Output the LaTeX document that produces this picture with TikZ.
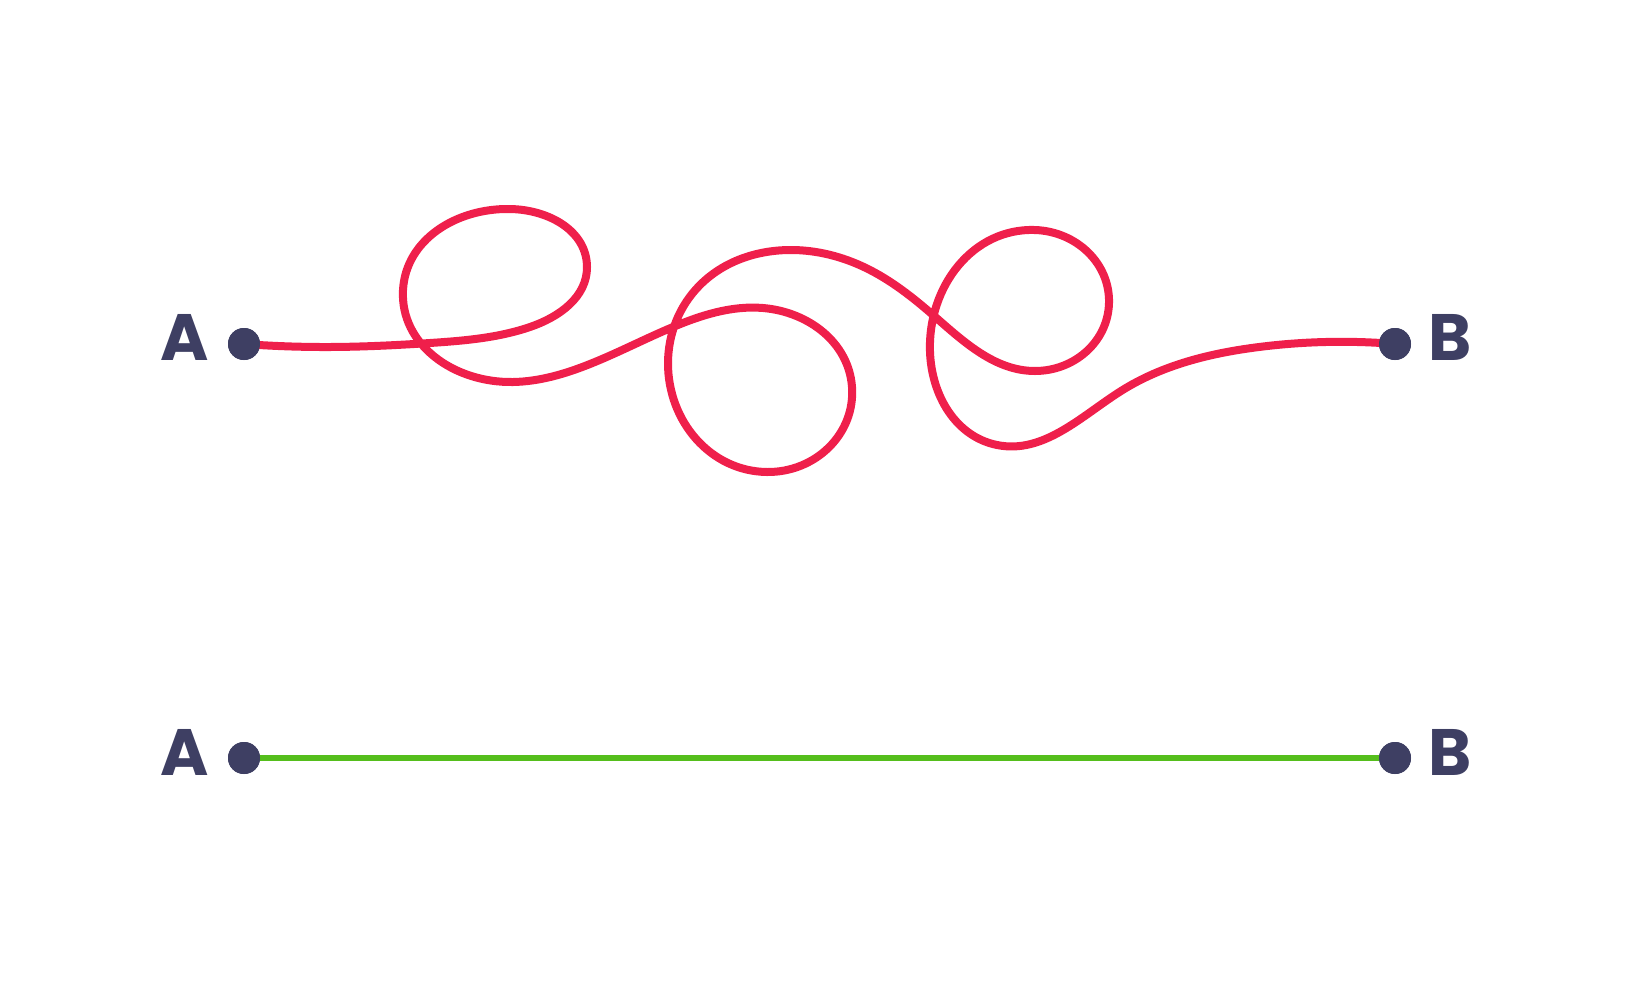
\documentclass[tikz,border=0pt]{standalone}
\usepackage{fontspec}
\usetikzlibrary{hobby}
\newfontfamily\labfont{Poppins}
\definecolor{navy}{HTML}{3E3F63}
\definecolor{tangle}{HTML}{EF1F4B}
\definecolor{direct}{HTML}{55BE1C}
\tikzset{
  dotpt/.style={circle,fill=navy,inner sep=0pt,minimum size=0.96cm},
  letter/.style={text=navy,font=\labfont\bfseries\fontsize{56}{60}\selectfont,inner sep=0pt,anchor=base},
  wire/.style={line width=0.24cm,line cap=round,line join=round},
}
\begin{document}
\begin{tikzpicture}[x=0.03cm,y=-0.03cm]
\useasboundingbox (0,0) rectangle (1633,980);
% top row
\node[dotpt] (A1) at (244,344) {};
\node[dotpt] (B1) at (1395,344) {};
\draw[wire,tangle,use Hobby shortcut]
 (A1.center) .. (330,347) .. (430,343) .. (530,327) .. (587,267) .. (510,209)
 .. (403,290) .. (513,382) .. (590,364) .. (673,327) .. (763,308) .. (852,387)
 .. (767,472) .. (668,363) .. (700,285) .. (790,250) .. (866,268) .. (933,315)
 .. (1035,371) .. (1109,303) .. (1035,230) .. (930,352) .. (997,445)
 .. (1121,391) .. (1259,347) .. (B1.center);
\node[dotpt] at (A1.center) {};
\node[dotpt] at (B1.center) {};
\node[letter] (LA1) at (185,360) {A};
\node[letter] (LB1) at (1450,360) {B};
% bottom row
\node[dotpt] (A2) at (244,758) {};
\node[dotpt] (B2) at (1395,758) {};
\draw[wire,direct,line width=0.19cm] (A2.center) -- (B2.center);
\node[dotpt] at (A2.center) {};
\node[dotpt] at (B2.center) {};
\node[letter] (LA2) at (185,775) {A};
\node[letter] (LB2) at (1450,775) {B};
\end{tikzpicture}
\end{document}
